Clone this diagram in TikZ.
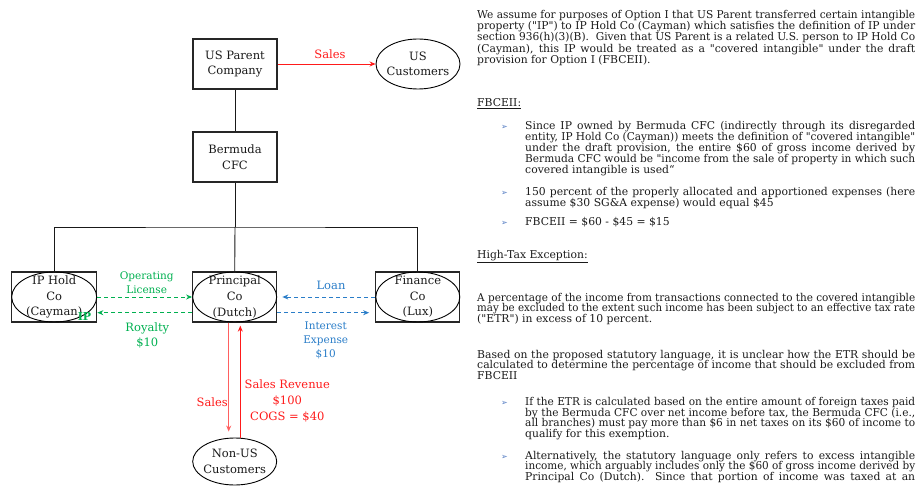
\documentclass[tikz,border=0pt]{standalone}
\usepackage{fontspec}
\setmainfont{DejaVu Serif}[Ligatures=TeXOff]
\newfontfamily\symfont{DejaVu Sans}
\usepackage{graphicx}
\usetikzlibrary{shapes.geometric,arrows.meta}
\definecolor{tgreen}{HTML}{00B050}
\definecolor{tblue}{HTML}{2A7DC8}
\definecolor{tred}{HTML}{FF1A1A}
\definecolor{tlred}{HTML}{FF6060}
\definecolor{ttext}{HTML}{1A1A1A}
\definecolor{tbul}{HTML}{4F78C0}
\newlength\jlw
\newcommand\jline[2]{\settowidth\jlw{#2}\ifdim\jlw>#1\relax\resizebox{#1}{\height}{#2}\else\makebox[#1][s]{#2}\fi}
\newcommand\dfont{\fontsize{11.5}{15.6}\selectfont}
\newcommand\sfontx{\fontsize{10.5}{14}\selectfont}
\newcommand\rfont{\fontsize{10.8}{11}\selectfont}
\tikzset{
  box/.style={draw=black!85, line width=1.3pt, minimum width=84pt, minimum height=50pt, inner sep=0pt, align=center, font=\dfont, text=ttext},
  ell/.style={ellipse, draw=black, line width=0.9pt, minimum width=84pt, minimum height=50pt, inner sep=0pt},
  lbl/.style={inner sep=0pt, align=center, font=\dfont, text=ttext},
  link/.style={line width=0.9pt, draw=black!90},
  tip/.style={-{Stealth[length=6pt,width=5pt]}},
  gflow/.style={tip, draw=tgreen, line width=0.9pt, dash pattern=on 4pt off 3pt},
  bflow/.style={tip, draw=tblue, line width=0.9pt, dash pattern=on 4pt off 3pt},
  rflow/.style={tip, draw=tred, line width=0.9pt},
  lab/.style={inner sep=0pt, align=center},
  para/.style={anchor=base west, inner sep=0pt, font=\rfont, text=ttext},
  bul/.style={anchor=base west, inner sep=0pt, font=\symfont\fontsize{8}{8}\selectfont, text=tbul}
}
\begin{document}
\begin{tikzpicture}[x=1pt,y=-1pt]
\useasboundingbox (0,0) rectangle (917,486);
% ---------- diagram ----------
\node[box] (usp) at (235,64) {US Parent\\Company};
\node[ell] (usc) at (418,64) {};
\node[lbl] (uscT) at (usc.center) {US\\Customers};
\node[box] (bcfc) at (235,157) {Bermuda\\CFC};
\node[box, minimum width=85pt] (ip) at (54.2,297) {IP Hold\\Co\\(Cayman)};
\node[ell, minimum width=85pt] (ipe) at (ip.center) {};
\node[box] (pc) at (234.7,297) {Principal\\Co\\(Dutch)};
\node[ell] (pce) at (pc.center) {};
\node[box] (fc) at (417.8,297) {Finance\\Co\\(Lux)};
\node[ell] (fce) at (fc.center) {};
\node[ell, minimum height=47pt] (nus) at (234.7,461.5) {};
\node[lbl] (nusT) at (nus.center) {Non-US\\Customers};
\coordinate (bus) at (235,227);

\draw[link] (usp.south) -- (bcfc.north);
\draw[link] (bcfc.south) -- (bus);
\draw[link] (ip.north) |- (bus) -| (fc.north);
\draw[link] (bus) -- (pc.north);

\draw[rflow] (usp.east) -- (usc.west);
\node[lab, font=\dfont, text=tred] (lsales) at (330,54) {Sales};

\draw[gflow] (ip.east) -- (pc.west);
\draw[gflow] ([yshift=-15.7pt]pc.west) -- ([yshift=-15.7pt]ip.east);
\node[lab, font=\sfontx, text=tgreen] (lop) at (146.7,283) {Operating\\License};
\node[lab, font=\dfont, text=tgreen] (lroy) at (147.3,335.5) {Royalty\\\$10};
\node[lab, font=\bfseries\fontsize{11}{11}\selectfont, text=tgreen] (lip) at (84.5,316.5) {IP};

\draw[bflow, shorten >=5pt] (fc.west) -- (pc.east);
\draw[bflow, shorten >=6pt] ([yshift=-15.7pt]pc.east) -- ([yshift=-15.7pt]fc.west);
\node[lab, font=\dfont, text=tblue] (lloan) at (331,285.7) {Loan};
\node[lab, font=\sfontx, text=tblue] (lint) at (325.7,340) {Interest\\Expense\\\$10};

\draw[tip, draw=tlred, line width=0.9pt, shorten >=6pt] ([xshift=-6pt]pc.south) -- ([xshift=-6pt]pc.south |- nus.north);
\draw[rflow, shorten >=3pt] ([xshift=5.6pt]nus.north) -- ([xshift=5.6pt]nus.north |- pc.south);
\node[lab, font=\dfont, text=tred] (lsales2) at (212.3,402.3) {Sales};
\node[lab, font=\fontsize{11.5}{16.2}\selectfont, text=tred] (lrev) at (287.3,400.7) {Sales Revenue\\\$100\\COGS = \$40};

% ---------- text ----------
\node[para] (t1) at (477,18.3) {\jline{438pt}{We assume for purposes of Option I that US Parent transferred certain intangible}};
\node[para] (t2) at (477,29.55) {\jline{438pt}{property ("IP") to IP Hold Co (Cayman) which satisfies the definition of IP under}};
\node[para] (t3) at (477,40.8) {\jline{438pt}{section 936(h)(3)(B).\ \ Given that US Parent is a related U.S. person to IP Hold Co}};
\node[para] (t4) at (477,52.05) {\jline{438pt}{(Cayman), this IP would be treated as a "covered intangible" under the draft}};
\node[para] (t5) at (477,63.3) {provision for Option I (FBCEII).};

\node[para] (h1) at (477,106.3) {\underline{FBCEII:}};

\node[bul] (m1) at (501,129.3) {➢};
\node[para] (b11) at (525,129.3) {\jline{390pt}{Since IP owned by Bermuda CFC (indirectly through its disregarded}};
\node[para] (b12) at (525,140.3) {\jline{390pt}{entity, IP Hold Co (Cayman)) meets the definition of "covered intangible"}};
\node[para] (b13) at (525,151.3) {\jline{390pt}{under the draft provision, the entire \$60 of gross income derived by}};
\node[para] (b14) at (525,162.3) {\jline{390pt}{Bermuda CFC would be "income from the sale of property in which such}};
\node[para] (b15) at (525,173.3) {covered intangible is used“};

\node[bul] (m2) at (501,195.3) {➢};
\node[para] (b21) at (525,195.3) {\jline{390pt}{150 percent of the properly allocated and apportioned expenses (here}};
\node[para] (b22) at (525,206.3) {assume \$30 SG\&A expense) would equal \$45};

\node[bul] (m3) at (501,225.3) {➢};
\node[para] (b31) at (525,225.3) {FBCEII = \$60 - \$45 = \$15};

\node[para] (h2) at (477,258.3) {\underline{High-Tax Exception:}};

\node[para] (p21) at (477,301.3) {\jline{438pt}{A percentage of the income from transactions connected to the covered intangible}};
\node[para] (p22) at (477,311.8) {\jline{438pt}{may be excluded to the extent such income has been subject to an effective tax rate}};
\node[para] (p23) at (477,322.3) {("ETR") in excess of 10 percent.};

\node[para] (p31) at (477,358.3) {\jline{438pt}{Based on the proposed statutory language, it is unclear how the ETR should be}};
\node[para] (p32) at (477,368.8) {\jline{438pt}{calculated to determine the percentage of income that should be excluded from}};
\node[para] (p33) at (477,379.3) {FBCEII};

\node[bul] (m4) at (501,405.8) {➢};
\node[para] (b41) at (525,405.8) {\jline{390pt}{If the ETR is calculated based on the entire amount of foreign taxes paid}};
\node[para] (b42) at (525,416.3) {\jline{390pt}{by the Bermuda CFC over net income before tax, the Bermuda CFC (i.e.,}};
\node[para] (b43) at (525,426.8) {\jline{390pt}{all branches) must pay more than \$6 in net taxes on its \$60 of income to}};
\node[para] (b44) at (525,437.3) {qualify for this exemption.};

\node[bul] (m5) at (501,459.3) {➢};
\node[para] (b51) at (525,459.3) {\jline{390pt}{Alternatively, the statutory language only refers to excess intangible}};
\node[para] (b52) at (525,469.8) {\jline{390pt}{income, which arguably includes only the \$60 of gross income derived by}};
\node[para] (b53) at (525,480.3) {\jline{390pt}{Principal Co (Dutch).\ \ Since that portion of income was taxed at an}};
\end{tikzpicture}
\end{document}
